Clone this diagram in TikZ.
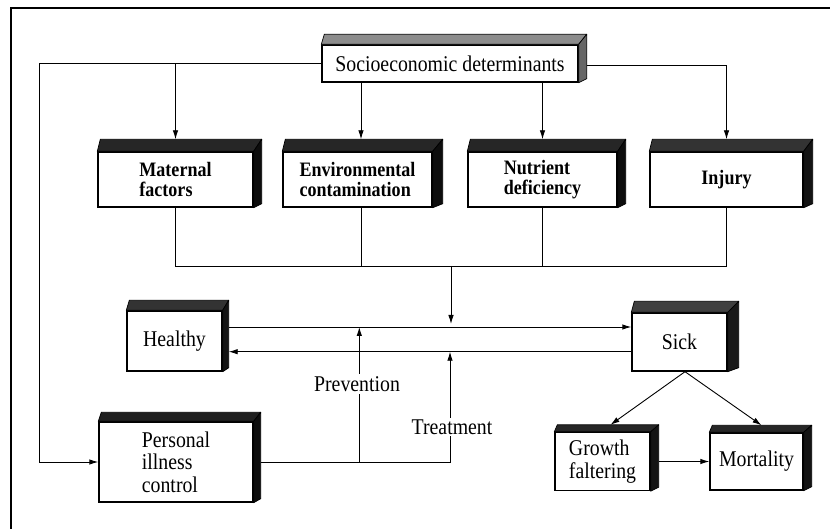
\documentclass[tikz,border=0pt]{standalone}
\usepackage{fontspec}
\setmainfont{Liberation Serif}[FakeStretch=0.88]
\usetikzlibrary{arrows.meta}
\begin{document}
\begin{tikzpicture}[x=1pt,y=-1pt,
  box/.style={draw, line width=1.4pt, fill=white, inner sep=0pt, align=center,
    font=\fontsize{22.5}{22.5}\selectfont},
  lbox/.style={box, align=left},
  bbox/.style={box, align=left, font=\fontsize{20.5}{20.5}\selectfont\bfseries},
  conn/.style={line width=0.9pt},
  arr/.style={conn, -{Latex[length=9pt,width=5.5pt]}},
  lbl/.style={fill=white, inner sep=2pt, font=\fontsize{22.5}{22.5}\selectfont}]
\useasboundingbox (0,0) rectangle (830,529);
% frame
\draw[line width=1.2pt] (11,529) -- (11,8) -- (830,8);
% boxes
\node[box, minimum width=256pt, minimum height=37pt] (soc) at (450,63.5) {Socioeconomic determinants};
\node[bbox, minimum width=155pt, minimum height=55pt] (mat) at (175.5,179.5) {Maternal\\factors};
\node[bbox, minimum width=149pt, minimum height=55pt] (env) at (357.5,179.5) {Environmental\\contamination};
\node[bbox, minimum width=149pt, minimum height=55pt] (nut) at (542.5,179.5) {Nutrient\\deficiency};
\node[bbox, minimum width=153pt, minimum height=55pt, align=center] (inj) at (726.5,179.5) {Injury};
\node[box, minimum width=95pt, minimum height=60pt] (hea) at (174.5,341) {Healthy};
\node[box, minimum width=95pt, minimum height=58pt] (sick) at (679.5,342) {Sick};
\node[lbox, minimum width=154pt, minimum height=80pt] (pic) at (176,462) {Personal\\illness\\control};
\node[lbox, minimum width=95pt, minimum height=58pt] (gro) at (602.5,461.5) {Growth\\faltering};
\node[box, minimum width=93pt, minimum height=57pt] (mor) at (756.5,461.5) {Mortality};
% 3D extrusions
\foreach \n/\dx/\dy/\tc/\sc in {soc/8/10/45/60, mat/8/12/85/95, env/10/12/85/95,
   nut/8/12/85/95, inj/9/12/80/92, hea/6/10/80/92, sick/11/11/75/90,
   pic/7/9/88/95, gro/8/7/85/92, mor/8/7/85/92}{
  \filldraw[fill=black!\tc, line width=0.7pt, line join=round]
    (\n.north west) -- ([shift={(3pt,\dy pt)}]\n.north west)
    -- ([shift={(\dx pt,\dy pt)}]\n.north east) -- (\n.north east) -- cycle;
  \filldraw[fill=black!\sc, line width=0.7pt, line join=round]
    (\n.north east) -- ([shift={(\dx pt,\dy pt)}]\n.north east)
    -- ([shift={(\dx pt,4pt)}]\n.south east) -- (\n.south east) -- cycle;
}
% socioeconomic connectors
\coordinate (L) at (39.5,63.5);
\draw[arr] (soc.west) -- (L) |- (pic.west);
\draw[arr] (mat.north |- soc.west) -- ([yshift=12pt]mat.north);
\coordinate (envtop) at ([shift={(3.5pt,12pt)}]env.north);
\coordinate (envbot) at ([xshift=3.5pt]env.south);
\draw[arr] (soc.south -| envtop) -- (envtop);
\draw[arr] (soc.south -| nut.north) -- ([yshift=12pt]nut.north);
\draw[arr] ([shift={(8pt,-2pt)}]soc.east) -| ([yshift=12pt]inj.north);
% joining
\coordinate (J) at (451,266);
\draw[conn] (mat.south) -- (mat.south |- J) -- (inj.south |- J) -- (inj.south);
\draw[conn] (envbot) -- (envbot |- J);
\draw[conn] (nut.south) -- (nut.south |- J);
% healthy <-> sick
\coordinate (hU) at ([shift={(6pt,14pt)}]hea.east);
\coordinate (sL) at ([yshift=-9.7pt]sick.west);
\draw[arr] (hU) -- (hU -| sick.west);
\draw[arr] (sL) -- (sL -| hU);
\draw[arr, shorten >=3pt] (J) -- (J |- hU);
% personal illness control
\coordinate (P) at ([xshift=7pt]pic.east);
\coordinate (T) at (450,462);
\coordinate (Pv) at (359.3,462);
\draw[arr] (P) -- (T) -- (T |- sL);
\draw[arr] (Pv) -- (Pv |- hU);
\node[lbl] (prev) at (357,384) {Prevention};
\node[lbl] (treat) at (452,427) {Treatment};
% sick outcomes
\coordinate (sB) at ([xshift=5.5pt]sick.south);
\draw[arr] (sB) -- ([shift={(8pt,7pt)}]gro.north);
\draw[arr] (sB) -- ([shift={(5pt,7pt)}]mor.north);
\draw[arr] ([xshift=8pt]gro.east) -- (mor.west);
\end{tikzpicture}
\end{document}
